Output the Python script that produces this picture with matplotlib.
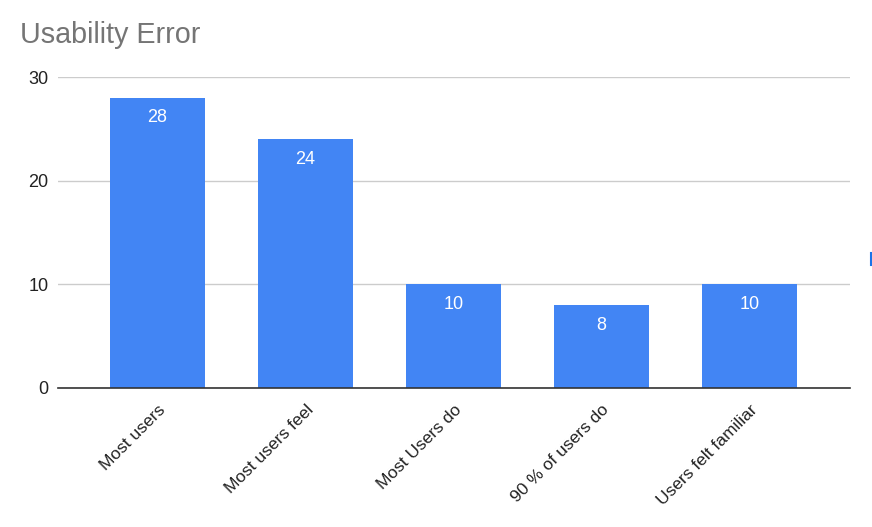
import matplotlib
matplotlib.use("Agg")
import matplotlib.pyplot as plt
from matplotlib.lines import Line2D

categories = ["Most users", "Most users feel", "Most Users do", "90 % of users do", "Users felt familiar"]
values = [28, 24, 10, 8, 10]
yticks = [0, 10, 20, 30]

plt.rcParams['font.family'] = ['Liberation Sans', 'DejaVu Sans']

W, H = 872, 527
fig = plt.figure(figsize=(W/100, H/100), dpi=100)
left, right, bottom, top = 58, 850, 388, 77
ax = fig.add_axes([left/W, 1 - bottom/H, (right-left)/W, (bottom-top)/H])

x = list(range(len(categories)))
bars = ax.bar(x, values, width=0.64, color="#4285F4", zorder=3)
for xi, v in zip(x, values):
    ax.annotate(str(v), (xi, v), xytext=(0, -14.5), textcoords="offset points",
                ha="center", va="center", color="white", fontsize=13, zorder=4)

ax.set_xlim(-0.672, 4.679)
ax.set_ylim(0, 30)
ax.set_yticks(yticks)
ax.set_yticklabels([str(t) for t in yticks], fontsize=13, color="#222222")
ax.yaxis.grid(True, color="#cccccc", linewidth=1, zorder=0)
ax.tick_params(axis="y", length=0, pad=7)
ax.set_xticks(x)
ax.set_xticklabels(categories, rotation=45, ha="right", rotation_mode="anchor",
                   fontsize=12.5, color="#222222")
ax.tick_params(axis="x", length=0, pad=10)
for s in ["top", "right", "left"]:
    ax.spines[s].set_visible(False)
ax.spines["bottom"].set_color("#333333")
ax.spines["bottom"].set_linewidth(1.2)
ax.spines["bottom"].set_zorder(5)

fig.text(20/W, 1 - 43/H, "Usability Error", fontsize=20.7, color="#757575", ha="left", va="baseline")
fig.add_artist(Line2D([870.5/W, 870.5/W], [1 - 253/H, 1 - 265/H], color="#1a73e8", linewidth=1.5))

fig.savefig("out.png", dpi=100)
